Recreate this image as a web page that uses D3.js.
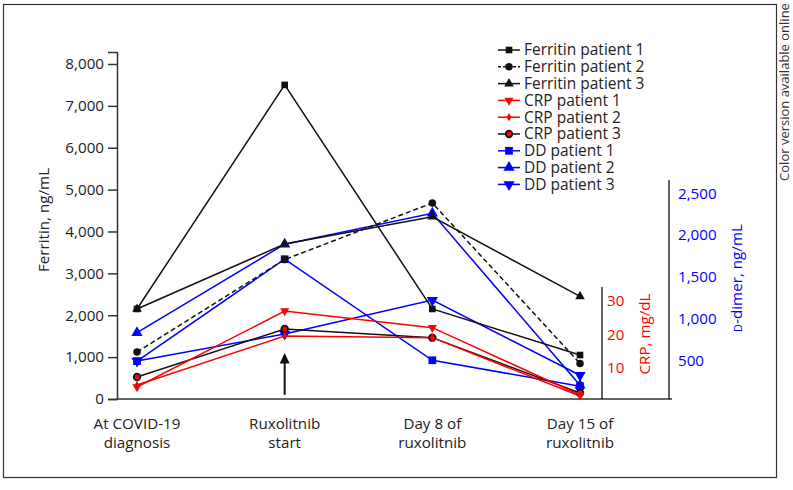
<!DOCTYPE html>
<html><head><meta charset="utf-8">
<script src="https://cdn.jsdelivr.net/npm/d3@7"></script>
<style>
body{margin:0;background:#fff;}
svg{display:block;font-family:"Open Sans",sans-serif;}
</style></head>
<body><svg id="c" width="793" height="490"></svg>
<script>
const categories = [["At COVID-19","diagnosis"],["Ruxolitnib","start"],["Day 8 of","ruxolitnib"],["Day 15 of","ruxolitnib"]];
const ferritinTicks = [0,1000,2000,3000,4000,5000,6000,7000,8000];
const crpTicks = [10,20,30];
const ddTicks = [500,1000,1500,2000,2500];

const ferritinP1 = [2150, 7500, 2150, 1050];
const ferritinP2 = [1120, 3330, 4680, 850];
const ferritinP3 = [2150, 3700, 4350, 2450];
const crpP1 = [4.2, 27, 22, 1.8];
const crpP2 = [4.8, 19.5, 19, 1.5];
const crpP3 = [7.2, 21.6, 19, 2.4];
const ddP1 = [490, 1710, 500, 190];
const ddP2 = [830, 1890, 2260, 200];
const ddP3 = [490, 815, 1220, 320];

const svg = d3.select("#c");
const fmt = d3.format(",");
const keys = categories.map(c=>c.join(" "));
const x = d3.scalePoint().domain(keys).range([137,580]);
const yF = d3.scaleLinear().domain([0,8286]).range([399,52]);
const yC = d3.scaleLinear().domain([0,34.2]).range([401,287]);
const yD = d3.scaleLinear().domain([0,2659]).range([402,180]);
const FS = 15.2;

// frame
svg.append("rect").attr("x",3.5).attr("y",4.5).attr("width",773).attr("height",473)
  .attr("fill","none").attr("stroke","#333").attr("stroke-width",1.2);
svg.append("text").attr("transform","translate(789,92) rotate(-90)")
  .attr("text-anchor","middle").attr("font-size",13).attr("fill","#333")
  .text("Color version available online");

// left axis
const axL = svg.append("g").attr("transform","translate(117,0)")
  .call(d3.axisLeft(yF).tickValues(ferritinTicks).tickFormat(fmt).tickSize(9).tickPadding(4));
axL.select(".domain").attr("stroke","#333").attr("stroke-width",1.5);
axL.selectAll(".tick line").attr("stroke","#333").attr("stroke-width",1.5);
axL.selectAll("text").attr("font-size",FS).attr("fill","#222").attr("font-family","Open Sans");
svg.append("text").attr("transform","translate(49,220) rotate(-90)")
  .attr("text-anchor","middle").attr("font-size",FS).attr("fill","#222").text("Ferritin, ng/mL");

// bottom axis
svg.append("line").attr("x1",117).attr("x2",672).attr("y1",399).attr("y2",399)
  .attr("stroke","#333").attr("stroke-width",1.5);
const xl = svg.append("g");
categories.forEach((c,i)=>{
  const t = xl.append("text").attr("text-anchor","middle").attr("font-size",FS).attr("fill","#222");
  t.append("tspan").attr("x",x(keys[i])).attr("y",429).text(c[0]);
  t.append("tspan").attr("x",x(keys[i])).attr("y",448).text(c[1]);
});

// CRP axis
svg.append("line").attr("x1",602).attr("x2",602).attr("y1",yC.range()[1]).attr("y2",399).attr("stroke","#111").attr("stroke-width",1.3);
svg.append("g").selectAll("text").data(crpTicks).join("text")
  .attr("x",607).attr("y",d=>yC(d)).attr("dy","0.35em").attr("font-size",FS).attr("fill","#ff0000").text(d=>d);
svg.append("text").attr("transform","translate(650,334) rotate(-90)")
  .attr("text-anchor","middle").attr("font-size",FS).attr("fill","#ff0000").text("CRP, mg/dL");

// D-dimer axis
svg.append("line").attr("x1",669).attr("x2",669).attr("y1",yD.range()[1]).attr("y2",399).attr("stroke","#111").attr("stroke-width",1.3);
svg.append("g").selectAll("text").data(ddTicks).join("text")
  .attr("x",678).attr("y",d=>yD(d)).attr("dy","0.35em").attr("font-size",FS).attr("fill","#0000ff").text(d=>fmt(d));
const ddT = svg.append("text").attr("transform","translate(742,278) rotate(-90)")
  .attr("text-anchor","middle").attr("font-size",FS).attr("fill","#0000ff");
ddT.append("tspan").style("font-variant","small-caps").text("d");
ddT.append("tspan").text("-dimer, ng/mL");

function sym(type,size){return d3.symbol().type(type).size(size)();}
const series = [
  {name:"Ferritin patient 1", vals:ferritinP1, y:yF, color:"#111", dash:null, shape:d3.symbolSquare, size:44, fill:"#111", rot:0},
  {name:"Ferritin patient 2", vals:ferritinP2, y:yF, color:"#111", dash:"5,3", shape:d3.symbolCircle, size:44, fill:"#111", rot:0},
  {name:"Ferritin patient 3", vals:ferritinP3, y:yF, color:"#111", dash:null, shape:d3.symbolTriangle, size:40, fill:"#111", rot:0},
  {name:"CRP patient 1", vals:crpP1, y:yC, color:"#ff0000", dash:null, shape:d3.symbolTriangle, size:36, fill:"#ff0000", rot:180},
  {name:"CRP patient 2", vals:crpP2, y:yC, color:"#ff0000", dash:null, shape:d3.symbolDiamond, size:20, fill:"#ff0000", rot:0},
  {name:"CRP patient 3", vals:crpP3, y:yC, color:"#111", dash:null, shape:d3.symbolCircle, size:34, fill:"#ff0000", rot:0, stroke:"#111"},
  {name:"DD patient 1", vals:ddP1, y:yD, color:"#0000ff", dash:null, shape:d3.symbolSquare, size:60, fill:"#0000ff", rot:0},
  {name:"DD patient 2", vals:ddP2, y:yD, color:"#0000ff", dash:null, shape:d3.symbolTriangle, size:55, fill:"#0000ff", rot:0},
  {name:"DD patient 3", vals:ddP3, y:yD, color:"#0000ff", dash:null, shape:d3.symbolTriangle, size:55, fill:"#0000ff", rot:180}
];

const plot = svg.append("g");
series.slice().reverse().forEach(s=>{
  const line = d3.line().x((d,i)=>x(keys[i])).y(d=>s.y(d));
  plot.append("path").attr("d",line(s.vals)).attr("fill","none").attr("stroke",s.color)
    .attr("stroke-width",1.5).attr("stroke-dasharray",s.dash);
});
series.slice().reverse().forEach(s=>{
  plot.append("g").selectAll("path").data(s.vals).join("path")
    .attr("transform",(d,i)=>`translate(${x(keys[i])},${s.y(d)}) rotate(${s.rot})`)
    .attr("d",sym(s.shape,s.size)).attr("fill",s.fill)
    .attr("stroke",s.stroke||"none").attr("stroke-width",1.8);
});

// arrow annotation
const ax = x(keys[1]);
svg.append("line").attr("x1",ax).attr("x2",ax).attr("y1",yF(100)).attr("y2",yF(900))
  .attr("stroke","#111").attr("stroke-width",2);
svg.append("path").attr("d",`M${ax},${yF(1100)} L${ax-5},${yF(850)} L${ax+5},${yF(850)} Z`).attr("fill","#111");

// legend
const lg = svg.append("g").attr("transform","translate(498,50)");
series.forEach((s,i)=>{
  const g = lg.append("g").attr("transform",`translate(0,${i*16.8})`);
  g.append("line").attr("x1",0).attr("x2",22).attr("stroke",s.color).attr("stroke-width",1.5).attr("stroke-dasharray",s.dash?"3,2":null);
  g.append("path").attr("transform",`translate(11,0) rotate(${s.rot})`).attr("d",sym(s.shape,s.size))
    .attr("fill",s.fill).attr("stroke",s.stroke||"none").attr("stroke-width",1.8);
  g.append("text").attr("x",26).attr("dy","0.35em").attr("font-size",15.5).attr("fill","#222").text(s.name);
});
</script></body></html>
